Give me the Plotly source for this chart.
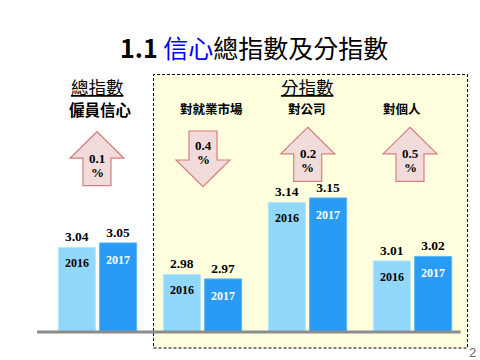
import plotly.graph_objects as go

# ---- data ----
categories = ["僱員信心", "對就業市場", "對公司", "對個人"]
years = ["2016", "2017"]
values_2016 = [3.04, 2.98, 3.14, 3.01]
values_2017 = [3.05, 2.97, 3.15, 3.02]
change_pct = ["0.1", "0.4", "0.2", "0.5"]
change_dir = ["up", "down", "up", "up"]

# ---- layout geometry (pixels) ----
W, H = 480, 360
ML, MR, MT, MB = 45, 15, 0, 28
PW = W - ML - MR
PH = H - MT - MB
Y0 = 2.852
YSCALE = 450.0  # px per unit
Y1 = Y0 + PH / YSCALE


def pxx(x):
    return (x - ML) / PW


def pxy(y):
    return (MT + PH - y) / PH


serif = "Liberation Serif, Times New Roman, serif"
cjk = "Noto Sans CJK TC, Noto Sans CJK SC, sans-serif"
sans = "Liberation Sans, Arial, sans-serif"

fig = go.Figure()
colors = ["#92D8FC", "#2A9BF4"]
lines = ["#B8E6FB", "#5FB6F6"]
for yr, vals, c, lc in zip(years, [values_2016, values_2017], colors, lines):
    fig.add_trace(go.Bar(
        x=categories, y=[v - Y0 for v in vals], base=Y0, name=yr,
        marker=dict(color=c, line=dict(color=lc, width=1)),
        text=[f"<b>{v:.2f}</b>" for v in vals], textposition="outside",
        textfont=dict(family=serif, size=13.5, color="black"),
        cliponaxis=False, hoverinfo="skip",
    ))

shapes = []
# dashed sub-index box
shapes.append(dict(type="rect", xref="paper", yref="paper",
                   x0=pxx(153.5), x1=pxx(467.5), y0=pxy(348), y1=pxy(74.5),
                   fillcolor="#FFFFE0", line=dict(color="black", width=1, dash="3px,2px"),
                   layer="below"))
# baseline
shapes.append(dict(type="line", xref="paper", yref="paper",
                   x0=pxx(37), x1=pxx(460.7), y0=pxy(332), y1=pxy(332),
                   line=dict(color="#8C8C8C", width=3), layer="above"))

annotations = []
# year labels inside bars
for i, cat in enumerate(categories):
    for k, (vals, col, sh) in enumerate([(values_2016, "black", -16), (values_2017, "white", -17)]):
        annotations.append(dict(
            x=cat, y=vals[i], xref="x", yref="y", xshift=(-20.6 if k == 0 else 20.6),
            yshift=sh, text=f"<b>{years[k]}</b>", showarrow=False,
            font=dict(family=serif, size=12, color=col), xanchor="center", yanchor="middle"))

# arrows
arrow_cx = [97, 203, 307.7, 410]
arrow_top = [131.7, 131, 127.3, 127.3]
for cx, top, d, pct in zip(arrow_cx, arrow_top, change_dir, change_pct):
    hh, hw, sw, L = 26.5, 27, 14, 54
    if d == "up":
        pts = [(cx, top), (cx + hw, top + hh), (cx + sw, top + hh), (cx + sw, top + L),
               (cx - sw, top + L), (cx - sw, top + hh), (cx - hw, top + hh)]
        ty = top + 26.5
    else:
        L = 55.7
        hb = top + 29
        pts = [(cx - sw, top), (cx + sw, top), (cx + sw, hb), (cx + hw, hb), (cx, top + L),
               (cx - hw, hb), (cx - sw, hb), ]
        ty = top + 14
    path = "M " + " L ".join(f"{pxx(a):.5f},{pxy(b):.5f}" for a, b in pts) + " Z"
    shapes.append(dict(type="path", xref="paper", yref="paper", path=path,
                       fillcolor="#F2DCDB", line=dict(color="#D47F7D", width=1.2), layer="above"))
    annotations.append(dict(x=pxx(cx), y=pxy(ty), xref="paper", yref="paper", text=f"<b>{pct}</b>",
                            showarrow=False, font=dict(family=serif, size=13, color="black"),
                            xanchor="center", yanchor="middle"))
    annotations.append(dict(x=pxx(cx), y=pxy(ty + 14), xref="paper", yref="paper", text="<b>%</b>",
                            showarrow=False, font=dict(family=serif, size=13, color="black"),
                            xanchor="center", yanchor="middle"))

# title
annotations.append(dict(x=pxx(253.5), y=pxy(47), xref="paper", yref="paper",
                        text="<b>1.1</b> <span style='color:#0000FF'>信心</span>總指數及分指數",
                        showarrow=False, font=dict(family=cjk, size=25, color="black"),
                        xanchor="center", yanchor="middle"))
# headers
for txt, cx in [("總指數", 97.5), ("分指數", 307.5)]:
    annotations.append(dict(x=pxx(cx), y=pxy(86), xref="paper", yref="paper",
                            text=f"<u>{txt}</u>", showarrow=False,
                            font=dict(family=cjk, size=17.5, color="black"),
                            xanchor="center", yanchor="middle"))
# category labels
label_pos = [(100, 109, 15.5), (211, 109, 12.5), (306.5, 109, 12.5), (401.7, 109, 12.5)]
for cat, (cx, cy, fs) in zip(categories, label_pos):
    annotations.append(dict(x=pxx(cx), y=pxy(cy), xref="paper", yref="paper",
                            text=f"<b>{cat}</b>", showarrow=False,
                            font=dict(family=cjk, size=fs, color="black"),
                            xanchor="center", yanchor="middle"))
# page number
annotations.append(dict(x=pxx(472), y=pxy(353), xref="paper", yref="paper", text="2",
                        showarrow=False, font=dict(family=sans, size=13, color="#6E6E6E"),
                        xanchor="center", yanchor="middle"))

fig.update_layout(
    width=W, height=H, margin=dict(l=ML, r=MR, t=MT, b=MB),
    paper_bgcolor="white", plot_bgcolor="rgba(0,0,0,0)",
    barmode="group", bargap=0.214, bargroupgap=0.1, showlegend=False,
    xaxis=dict(range=[-0.5, 3.5], showticklabels=False, showgrid=False, zeroline=False,
               showline=False, fixedrange=True),
    yaxis=dict(range=[Y0, Y1], showticklabels=False, showgrid=False, zeroline=False,
               showline=False, fixedrange=True),
    shapes=shapes, annotations=annotations, hovermode=False,
)
fig.write_html("out.html", config={"displayModeBar": False, "staticPlot": True},
               post_script="document.body.style.margin='0';document.body.style.overflow='hidden';")
